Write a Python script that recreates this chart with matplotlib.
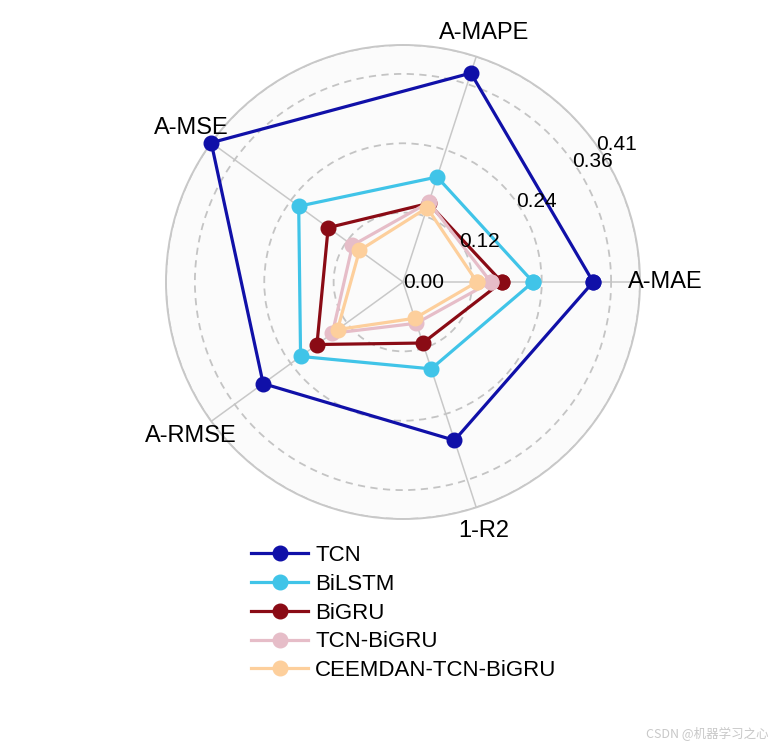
import numpy as np
import matplotlib
matplotlib.use("Agg")
import matplotlib.pyplot as plt

plt.rcParams['font.family'] = ['Liberation Sans', 'DejaVu Sans']

# metrics around the radar
metrics = ['A-MAE', 'A-MAPE', 'A-MSE', 'A-RMSE', '1-R2']
models = ['TCN', 'BiLSTM', 'BiGRU', 'TCN-BiGRU', 'CEEMDAN-TCN-BiGRU']
tcn = [0.329, 0.380, 0.410, 0.299, 0.288]
bilstm = [0.225, 0.191, 0.223, 0.219, 0.158]
bigru = [0.171, 0.143, 0.160, 0.184, 0.111]
tcn_bigru = [0.152, 0.145, 0.108, 0.151, 0.075]
ceemdan = [0.128, 0.135, 0.093, 0.140, 0.066]
rticks = [0.00, 0.12, 0.24, 0.36, 0.41]

colors = ['#1010a8', '#40c4e8', '#8a0b15', '#e6bdc8', '#fdcf9c']
series = [tcn, bilstm, bigru, tcn_bigru, ceemdan]

n = len(metrics)
angles = np.linspace(0, 2*np.pi, n, endpoint=False)
ang_c = np.concatenate([angles, angles[:1]])

fig = plt.figure(figsize=(7.8, 7.5), dpi=100)
ax = fig.add_axes([0.2128, 0.308, 0.6077, 0.632], projection='polar')
ax.set_facecolor('#fbfbfb')

for vals, c, name in zip(series, colors, models):
  v = np.concatenate([vals, vals[:1]])
  ax.plot(ang_c, v, '-o', color=c, lw=2.3, markersize=10.5, label=name,
          clip_on=False, zorder=3)

ax.set_ylim(0, rticks[-1])
ax.set_yticks(rticks)
ax.set_yticklabels([])
ax.yaxis.grid(True, color='#c4c4c4', ls=(0, (4, 3)), lw=1.3)
ax.set_xticks(angles)
ax.set_xticklabels([])
ax.xaxis.grid(True, color='#c8c8c8', ls='-', lw=1.1)
ax.spines['polar'].set_color('#c8c8c8')
ax.spines['polar'].set_linewidth(1.4)

# radial labels
la = np.deg2rad(35.5)
for r in rticks:
  ax.text(la, r, '%.2f' % r, ha='left', va='center', fontsize=15, zorder=4)

# metric labels
for a, m in zip(angles, metrics):
  ax.text(a, rticks[-1]*1.105, m, ha='center', va='center', fontsize=17,
          clip_on=False)

fig.legend(loc='upper left', bbox_to_anchor=(0.31, 0.285), frameon=False,
           fontsize=16, handlelength=2.6, handletextpad=0.3, labelspacing=0.35,
           borderaxespad=0)

fig.text(0.985, 0.012, 'CSDN @机器学习之心', ha='right', va='bottom', fontsize=9,
         color='#c8c8c8', family=['Noto Sans CJK SC', 'DejaVu Sans'])

fig.savefig('out.png', dpi=100)
